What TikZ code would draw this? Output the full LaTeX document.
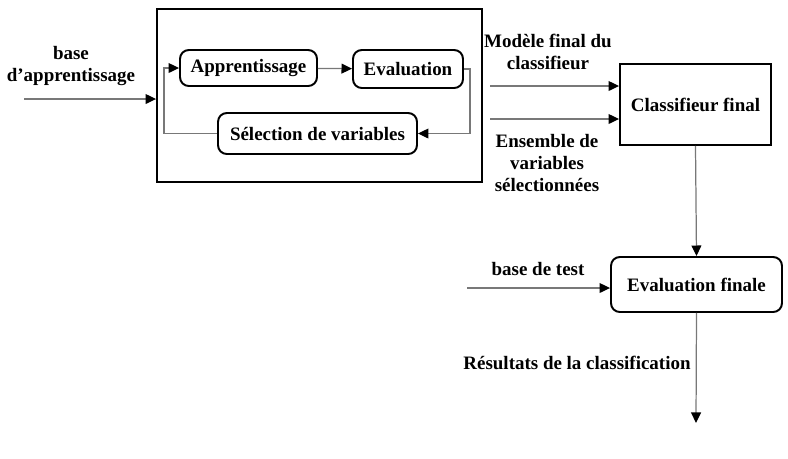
\documentclass[tikz,border=0pt]{standalone}
\usepackage{fontspec}
\setmainfont{Liberation Serif}
\usepackage{xcolor}
\usetikzlibrary{arrows.meta, positioning}
\definecolor{linegray}{RGB}{120, 120, 120}

\begin{document}
\begin{tikzpicture}[x=0.02cm, y=-0.02cm, >={Triangle[length=6pt, width=5.6pt, black]},
    every node/.style={font=\fontsize{10.8}{12.5}\selectfont\bfseries},
    etape/.style={draw, line width=1.1pt, rounded corners=5pt, inner sep=0pt},
    bloc/.style={draw, line width=1.1pt, inner sep=0pt},
    lien/.style={->, linegray, line width=0.7pt},
    legende/.style={align=center, inner sep=0pt}]
        \useasboundingbox (0,0) rectangle (788,458);

        % bloc d'apprentissage
        \node[bloc, minimum width=6.5cm, minimum height=3.46cm] (cadre) at (319.5,95.5) {};
        \node[etape, minimum width=2.74cm, minimum height=0.72cm] (app) at (248.5,68) {Apprentissage};
        \node[etape, minimum width=2.2cm, minimum height=0.76cm] (eval) at (408,69) {Evaluation};
        \node[etape, minimum width=3.98cm, minimum height=0.82cm] (sel) at (317.5,133.5) {Sélection de variables};

        \node[bloc, minimum width=3.02cm, minimum height=1.62cm] (clf) at (695.5,104.5) {Classifieur final};
        \node[etape, minimum width=3.42cm, minimum height=1.1cm] (evf) at (696.5,284.5) {Evaluation finale};

        \coordinate (entree) at (24,99);
        \coordinate (mod) at (490,86);
        \coordinate (ens) at (490,119);
        \coordinate (test) at (467,288);
        \coordinate (sortie) at (696,423);

        \draw[lien] (entree) -- (entree -| cadre.west);
        \draw[lien] (app) -- (eval);
        \draw[lien] (eval.east) -- ++(6,0) |- (sel.east);
        \draw[lien] (sel.west) -- ++(-53,0) |- (app.west);
        \draw[lien] (mod) -- (mod -| clf.west);
        \draw[lien] (ens) -- (ens -| clf.west);
        \draw[lien] (clf.south) -- (evf.north);
        \draw[lien] (test) -- (test -| evf.west);
        \draw[lien] (evf.south) -- (sortie);

        \node[legende] at (71,66) {base\\d'apprentissage};
        \node[legende] at (548,52) {Modèle final du\\classifieur};
        \node[legende] at (547,163) {Ensemble de\\variables\\sélectionnées};
        \node[legende] at (538,269) {base de test};
        \node[legende] at (577,363) {Résultats de la classification};
    \end{tikzpicture}
\end{document}
